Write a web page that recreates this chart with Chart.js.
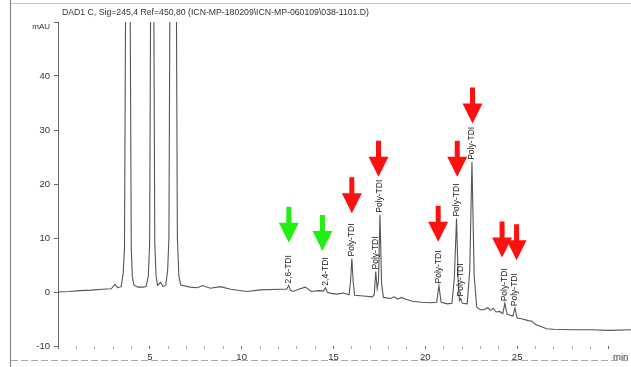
<!DOCTYPE html>
<html><head><meta charset="utf-8">
<script src="https://cdn.jsdelivr.net/npm/chart.js@4.4.1/dist/chart.umd.min.js"></script>
<style>html,body{margin:0;padding:0;background:#fff;}#wrap{width:631px;height:367px;position:relative;}</style>
</head><body><div id="wrap"><canvas id="c" width="631" height="367"></canvas></div>
<script>
const titleText = "DAD1 C, Sig=245,4 Ref=450,80 (ICN-MP-180209\\ICN-MP-060109\\038-1101.D)";
const yUnit = "mAU";
const xUnit = "min";

// retention time (min)
const times = [
  0.0, 0.6, 1.2, 1.8, 2.4, 2.9, 3.1, 3.25, 3.44, 3.55, 3.62, 3.69, 3.80, 3.92, 3.99, 4.05, 4.13,
  4.35, 4.6, 4.8, 4.92, 4.99, 5.05, 5.13, 5.21, 5.27, 5.34, 5.42, 5.58, 5.72,
  5.87, 5.97, 6.04, 6.10, 6.27, 6.44, 6.50, 6.58, 6.68,
  7.2, 7.6, 7.85, 8.3, 8.84, 9.4, 10.3, 11.0, 12.1, 12.45, 12.56, 12.66, 12.8, 13.1, 13.46, 13.8,
  14.2, 14.46, 14.56, 14.66, 14.85, 15.2, 15.55, 15.85, 15.93, 16.0, 16.07, 16.15, 16.63,
  17.12, 17.22, 17.3, 17.38, 17.45, 17.53, 17.62, 17.72, 18.1, 18.3, 18.5, 18.7, 18.9, 19.3, 19.8,
  20.3, 20.62, 20.74, 20.86, 21.2, 21.45, 21.58, 21.7, 21.8, 21.86, 21.93, 22.02, 22.28, 22.42,
  22.54, 22.66, 22.8, 23.0, 23.2, 23.4, 23.55, 23.7, 23.85, 24.05, 24.22, 24.33, 24.45, 24.62,
  24.76, 24.88, 25.0, 25.3, 25.6, 25.8, 26.0, 26.3, 26.6, 27.0, 28.0, 29.0, 30.0, 31.2
];
// detector signal (mAU)
const signal = [
  0.0, 0.1, 0.25, 0.35, 0.5, 0.6, 1.4, 0.8, 1.0, 3.5, 8, 60, 250, 60, 8, 2.8, 1.3,
  0.9, 0.9, 1.0, 3, 9, 60, 250, 60, 9, 3, 1.2, 1.8, 1.0,
  1.3, 4, 10, 60, 300, 60, 10, 3, 1.3,
  0.9, 0.8, 1.2, 0.7, 1.0, 0.5, 0.1, 0.4, 0.5, 0.5, 1.2, 0.3, 0.1, 0.5, 0.9, 0.1,
  0.25, 0.2, 0.8, 0.0, -0.25, -0.4, -0.2, -0.5, 2.0, 6.2, 2.0, -0.6, -0.75,
  -0.9, -0.5, 3.8, 0.6, 2.0, 14.3, 1.5, -1.0, -1.2, -0.9, -1.3, -1.0, -1.3, -1.7, -1.9,
  -2.0, -1.9, 1.2, -1.9, -2.2, -2.1, 2.5, 13.6, 1.0, -1.6, -1.2, -2.1, -2.2, 4,
  24.1, 3, -2.8, -3.3, -3.3, -2.9, -3.4, -3.0, -3.7, -3.6, -4.0, -2.1, -4.1, -4.3,
  -4.5, -3.0, -4.8, -5.0, -5.3, -5.4, -6.0, -6.4, -6.8, -6.9, -7.0, -7.0, -7.1, -7.0
];

const yTickValues = [-10, 0, 10, 20, 30, 40];
const xTickLabels = [5, 10, 15, 20, 25];

// peak annotations
const peakTimes = [12.56, 14.56, 16.0, 17.3, 17.53, 20.74, 21.7, 21.93, 22.54, 24.33, 24.88];
const peakTops  = [1.2, 0.8, 6.2, 3.8, 14.3, 1.2, 13.6, -1.2, 24.1, -2.1, -3.0];
const peakNames = ["2,6-TDI", "2,4-TDI", "Poly-TDI", "Poly-TDI", "Poly-TDI", "Poly-TDI",
                   "Poly-TDI", "Poly-TDI", "Poly-TDI", "Poly-TDI", "Poly-TDI"];

// arrows (tip position)
const greenArrowTimes = [12.57, 14.4];
const greenArrowTips  = [9.1, 7.6];
const redArrowTimes = [16.0, 17.45, 20.7, 21.74, 22.57, 24.18, 24.97];
const redArrowTips  = [14.6, 21.35, 9.3, 21.35, 31.2, 6.4, 5.9];

const FONT = "'Liberation Sans', Arial, sans-serif";
const points = times.map((t, i) => ({x: t, y: signal[i]}));

function drawArrow(ctx, x, y, color) {
  const total = 36, head = 20, hw = 10, sw = 2.5;
  ctx.save();
  ctx.fillStyle = color;
  ctx.beginPath();
  ctx.moveTo(x - sw, y - total);
  ctx.lineTo(x + sw, y - total);
  ctx.lineTo(x + sw, y - head);
  ctx.lineTo(x + hw, y - head);
  ctx.lineTo(x, y);
  ctx.lineTo(x - hw, y - head);
  ctx.lineTo(x - sw, y - head);
  ctx.closePath();
  ctx.fill();
  ctx.restore();
}

const decor = {
  id: 'decor',
  beforeDraw(chart) {
    const ctx = chart.ctx;
    ctx.save();
    ctx.fillStyle = '#fff';
    ctx.fillRect(0, 0, chart.width, chart.height);
    ctx.strokeStyle = '#8a8a8a';
    ctx.lineWidth = 1.2;
    ctx.beginPath();
    ctx.moveTo(10.5, 0); ctx.lineTo(10.5, chart.height);
    ctx.stroke();
    ctx.strokeStyle = '#c4c4c4';
    ctx.lineWidth = 1;
    ctx.beginPath();
    ctx.moveTo(11, 3.5); ctx.lineTo(chart.width, 3.5);
    ctx.stroke();
    ctx.strokeStyle = '#a8a8a8';
    ctx.setLineDash([7, 3]);
    ctx.beginPath();
    ctx.moveTo(11, 360.5); ctx.lineTo(chart.width, 360.5);
    ctx.stroke();
    ctx.restore();
  },
  afterDatasetsDraw(chart) {
    const ctx = chart.ctx;
    const xs = chart.scales.x, ys = chart.scales.y;
    ctx.save();
    ctx.fillStyle = '#1a1a1a';
    ctx.font = '8.5px ' + FONT;
    ctx.textAlign = 'left';
    ctx.textBaseline = 'middle';
    peakTimes.forEach((t, i) => {
      const px = xs.getPixelForValue(t);
      const py = ys.getPixelForValue(peakTops[i]) - 2;
      ctx.save();
      ctx.translate(px, py);
      ctx.rotate(-Math.PI / 2);
      ctx.fillText(peakNames[i], 0, 0);
      ctx.restore();
    });
    ctx.restore();
    greenArrowTimes.forEach((t, i) => drawArrow(ctx, xs.getPixelForValue(t), ys.getPixelForValue(greenArrowTips[i]), '#22ee11'));
    redArrowTimes.forEach((t, i) => drawArrow(ctx, xs.getPixelForValue(t), ys.getPixelForValue(redArrowTips[i]), '#ff1010'));
  },
  afterDraw(chart) {
    const ctx = chart.ctx;
    ctx.save();
    ctx.fillStyle = '#333';
    ctx.font = '8.7px ' + FONT;
    ctx.textBaseline = 'middle';
    ctx.textAlign = 'left';
    ctx.fillText(titleText, 62, 12.5);
    ctx.font = '8px ' + FONT;
    ctx.textAlign = 'right';
    ctx.fillText(yUnit, 50, 27);
    ctx.textAlign = 'left';
    ctx.font = '9.5px ' + FONT;
    ctx.fillText(xUnit, 613, 357);
    ctx.restore();
  }
};

new Chart(document.getElementById('c'), {
  type: 'line',
  data: {
    datasets: [{
      data: points,
      borderColor: '#555',
      borderWidth: 1.1,
      pointRadius: 0,
      tension: 0,
      fill: false
    }]
  },
  options: {
    responsive: false,
    animation: false,
    devicePixelRatio: 1,
    layout: {padding: {top: 22, right: 0, left: 0, bottom: 0}},
    plugins: {legend: {display: false}, tooltip: {enabled: false}, title: {display: false}},
    scales: {
      x: {
        type: 'linear',
        min: 0, max: 31.2,
        afterFit(s) { s.height = 21; },
        afterBuildTicks(s) { s.ticks = s.ticks.filter(t => Number.isInteger(t.value) && t.value <= 30); },
        border: {display: false},
        grid: {
          drawOnChartArea: false, drawTicks: true, tickLength: 3,
          color: c => (c.tick && c.tick.value % 5 === 0) ? '#666' : '#b0b0b0'
        },
        ticks: {
          stepSize: 1, autoSkip: false, maxRotation: 0, padding: 3,
          color: '#333', font: {family: FONT, size: 9.5},
          callback: v => xTickLabels.includes(v) ? String(v) : ''
        }
      },
      y: {
        min: -10, max: 50,
        afterFit(s) { s.width = 58; },
        afterBuildTicks(s) { s.ticks = yTickValues.concat([50]).map(v => ({value: v})); },
        border: {display: true, color: '#666', width: 1},
        grid: {drawOnChartArea: false, drawTicks: true, tickLength: 4, color: '#666'},
        ticks: {
          padding: 4, color: '#333', font: {family: FONT, size: 9.5},
          callback: v => yTickValues.includes(v) ? String(v) : ''
        }
      }
    }
  },
  plugins: [decor]
});
</script>
</body></html>
